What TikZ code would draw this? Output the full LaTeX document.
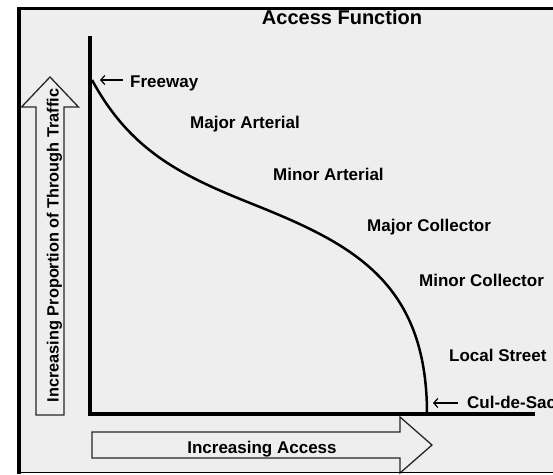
\documentclass[tikz,border=0pt]{standalone}
\usepackage{fontspec}
\setmainfont{Liberation Sans}
\usepackage{tikz}
\usetikzlibrary{arrows.meta}
\definecolor{bggray}{HTML}{EEEEEE}
\tikzstyle{lbl} = [font=\fontsize{17}{20}\selectfont\bfseries, inner sep=0pt, anchor=base west]
\tikzstyle{axis} = [line width=4pt]
\tikzstyle{blockarrow} = [draw=black!85, line width=1.3pt, fill=bggray, line join=miter]
\tikzstyle{pointer} = [line width=1.2pt, ->, >={Straight Barb[length=4pt,width=9pt]}]

\begin{document}
\begin{tikzpicture}[x=1pt, y=-1pt]
\useasboundingbox (0,0) rectangle (553,474);
\fill[white] (0,0) rectangle (553,474);
\fill[bggray] (19,8.5) rectangle (553,472.5);

% block arrows
\draw[blockarrow] (36,415) -- (64,415) -- (64,107) -- (78.5,107) -- (50,77) -- (21.5,107) -- (36,107) -- cycle;
\draw[blockarrow] (92,432) -- (400,432) -- (400,417) -- (432,445) -- (400,473) -- (400,458) -- (92,458) -- cycle;

% frame
\draw[line width=3.5pt] (19,474) -- (19,8.5) -- (553,8.5);
\draw[line width=1.5pt] (19,472.5) -- (553,472.5);

% axes and curve
\draw[axis] (90,36) -- (90,414) -- (535,414);
\coordinate (fwytip) at (100,80);
\coordinate (cdstip) at (433,403);
\draw[line width=2.5pt] (92,80) .. controls (130,150) and (180,175) .. (250,203)
  .. controls (350,243) and (427,280) .. (427,414);

% labels
\node (title) [font=\fontsize{20}{24}\selectfont\bfseries, inner sep=0pt, anchor=base] at (342,24) {Access Function};
\node (freeway) [lbl] at (130,87) {Freeway};
\node (majart) [lbl] at (190,128) {Major Arterial};
\node (minart) [lbl] at (273,180) {Minor Arterial};
\node (majcol) [lbl] at (367,231) {Major Collector};
\node (mincol) [lbl] at (419,286) {Minor Collector};
\node (local) [lbl] at (449,361) {Local Street};
\node (culdesac) [lbl] at (467,408) {Cul-de-Sac};
\node (access) [font=\fontsize{17}{20}\selectfont\bfseries, inner sep=0pt, anchor=base] at (262,453) {Increasing Access};
\node (through) [font=\fontsize{16.3}{20}\selectfont\bfseries, inner sep=0pt, anchor=base, rotate=90] at (58.5,245.5) {Increasing Proportion of Through Traffic};

\draw[pointer, shorten <=7pt] (fwytip -| freeway.west) -- (fwytip);
\draw[pointer, shorten <=9pt] (cdstip -| culdesac.west) -- (cdstip);

\end{tikzpicture}
\end{document}
